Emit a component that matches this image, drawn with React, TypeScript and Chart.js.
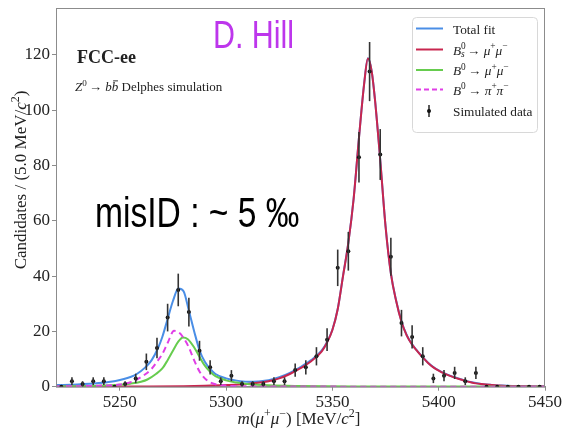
import React, { useEffect, useRef } from "react";
import { Chart, registerables } from "chart.js";

Chart.register(...registerables);

// ---- data ----
const binCenters = [
  5222.5, 5227.5, 5232.5, 5237.5, 5242.5, 5247.5, 5252.5, 5257.5, 5262.5, 5267.5,
  5272.5, 5277.5, 5282.5, 5287.5, 5292.5, 5297.5, 5302.5, 5307.5, 5312.5, 5317.5,
  5322.5, 5327.5, 5332.5, 5337.5, 5342.5, 5347.5, 5352.5, 5357.5, 5362.5, 5367.5,
  5372.5, 5377.5, 5382.5, 5387.5, 5392.5, 5397.5, 5402.5, 5407.5, 5412.5, 5417.5,
  5422.5, 5427.5, 5432.5, 5437.5, 5442.5, 5447.5,
];
const counts = [
  0, 2, 1, 2, 2, 0, 1, 3, 9, 14,
  25, 35, 27, 13, 7, 2, 4, 1, 1, 1,
  2, 2, 6, 7, 11, 17, 43, 49, 83, 114,
  84, 47, 23, 18, 11, 3, 4, 5, 2, 5,
  0, 0, 0, 0, 0, 0,
];
const countErrors = [
  0, 1.4, 1, 1.4, 1.4, 0, 1, 1.7, 3, 3.7,
  5, 5.9, 5.2, 3.6, 2.6, 1.4, 2, 1, 1, 1,
  1.4, 1.4, 2.4, 2.6, 3.3, 4.1, 6.6, 7, 9.1, 10.7,
  9.2, 6.9, 4.8, 4.2, 3.3, 1.7, 2, 2.2, 1.4, 2.2,
  0, 0, 0, 0, 0, 0,
];

const bsFitX = [
  5220, 5260, 5280, 5290, 5300, 5310, 5315, 5320, 5325, 5330, 5335, 5340, 5345, 5347.5,
  5350, 5352.5, 5355, 5357.5, 5360, 5362.5, 5365, 5366.7, 5368.5, 5370, 5372.5, 5375,
  5377.5, 5380, 5382.5, 5385, 5387.5, 5390, 5392.5, 5395, 5397.5, 5400, 5402.5, 5405,
  5407.5, 5410, 5412.5, 5415, 5417.5, 5420, 5425, 5430, 5440, 5450,
];
const bsFitY = [
  0.02, 0.1, 0.2, 0.35, 0.6, 1.0, 1.4, 2.0, 3.0, 4.6, 6.7, 9.2, 12.8, 16.0,
  20.5, 28, 40, 52, 68, 90, 110, 118.7, 114, 104, 82, 58,
  41, 31, 23.5, 18.5, 15.2, 12.8, 10.6, 8.6, 7.0, 5.8, 4.8, 4.0,
  3.3, 2.7, 2.1, 1.6, 1.2, 0.95, 0.6, 0.35, 0.12, 0.05,
];

const totalFitX = [
  5220, 5230, 5240, 5248, 5255, 5258, 5262, 5265, 5268, 5270, 5272.5, 5275, 5277.6,
  5280, 5282.5, 5285, 5287.5, 5290, 5292.5, 5295, 5300, 5305, 5310, 5315, 5320, 5325,
  5330, 5335, 5340, 5345, 5347.5, 5350, 5352.5, 5355, 5357.5, 5360, 5362.5, 5365,
  5366.7, 5368.5, 5370, 5372.5, 5375, 5377.5, 5380, 5382.5, 5385, 5387.5, 5390, 5392.5,
  5395, 5397.5, 5400, 5402.5, 5405, 5407.5, 5410, 5412.5, 5415, 5417.5, 5420, 5425,
  5430, 5440, 5450,
];
const totalFitY = [
  0.6, 0.8, 1.3, 2.1, 3.5, 4.6, 7.0, 9.6, 14, 18, 24.5, 31, 35.5,
  34.5, 27.5, 20, 13.2, 9, 6.4, 4.6, 3.0, 2.2, 1.8, 1.9, 2.3, 3.4,
  5.0, 7.1, 9.6, 13.1, 16.2, 20.6, 28.1, 40.1, 52.1, 68.1, 90.1, 110.1,
  118.8, 114.1, 104.1, 82.1, 58.1, 41.1, 31.1, 23.6, 18.6, 15.3, 12.9, 10.7,
  8.7, 7.1, 5.9, 4.9, 4.1, 3.4, 2.8, 2.2, 1.7, 1.3, 1.0, 0.65,
  0.4, 0.15, 0.07,
];

const b0FitX = [
  5220, 5240, 5250, 5255, 5260, 5263, 5267, 5270, 5272.5, 5275, 5277.5, 5279.7, 5282,
  5285, 5287.5, 5290, 5292.5, 5295, 5300, 5305, 5310, 5320, 5335, 5360, 5450,
];
const b0FitY = [
  0.1, 0.35, 0.7, 1.1, 1.8, 2.6, 4.6, 6.6, 9.6, 13.0, 16.3, 17.8, 17.2,
  14.2, 10.8, 7.6, 5.4, 3.8, 2.3, 1.5, 1.0, 0.5, 0.25, 0.1, 0.02,
];

const pipiFitX = [
  5220, 5240, 5250, 5255, 5258, 5262, 5265, 5267.5, 5270, 5272.5, 5275.5, 5278, 5280,
  5282.5, 5285, 5287.5, 5290, 5292.5, 5295, 5300, 5310, 5330, 5450,
];
const pipiFitY = [
  0.1, 0.35, 0.8, 1.6, 2.6, 4.5, 6.5, 9.0, 11.8, 15.8, 20.2, 19.5, 17.6,
  14.2, 9.5, 5.5, 3.0, 1.6, 0.9, 0.4, 0.15, 0.05, 0,
];

const xTickStep = 50;
const yTickStep = 20;
const xRange = [5220, 5450];
const yRange = [0, 137];

// ---- styles ----
const C_TOTAL = "#4a8ee6";
const C_BS = "#c8264f";
const C_B0 = "#66cc4e";
const C_PIPI = "#e03ee6";
const C_FRAME = "#8c8c8c";
const C_TEXT = "#222222";
const SERIF = "'Liberation Serif', 'DejaVu Serif', serif";
const SANS = "'Liberation Sans', Arial, sans-serif";

type Seg = { t: string; f?: "i" | "b" | "n"; p?: "sup" | "sub"; k?: boolean; bar?: boolean };

function drawRich(
  ctx: CanvasRenderingContext2D,
  segs: Seg[],
  x: number,
  y: number,
  size: number,
  draw = true
): number {
  let cx = x;
  for (const s of segs) {
    const sz = s.p ? size * 0.7 : size;
    const style = s.f === "i" ? "italic " : s.f === "b" ? "bold " : "";
    ctx.font = `${style}${sz}px ${SERIF}`;
    const dy = s.p === "sup" ? -size * 0.4 : s.p === "sub" ? size * 0.22 : 0;
    const w = ctx.measureText(s.t).width;
    if (draw) {
      ctx.fillText(s.t, cx, y + dy);
      if (s.bar) {
        ctx.save();
        ctx.lineWidth = 0.9;
        ctx.strokeStyle = ctx.fillStyle as string;
        ctx.beginPath();
        ctx.moveTo(cx + w * 0.2, y - size * 0.78);
        ctx.lineTo(cx + w * 0.95, y - size * 0.78);
        ctx.stroke();
        ctx.restore();
      }
    }
    if (!s.k) cx += w;
  }
  return cx - x;
}

const muPair: Seg[] = [
  { t: "μ", f: "i" },
  { t: "+", p: "sup" },
  { t: "μ", f: "i" },
  { t: "−", p: "sup" },
];

const legendRows: { kind: "line" | "dash" | "data"; color: string; segs: Seg[] }[] = [
  { kind: "line", color: C_TOTAL, segs: [{ t: "Total fit" }] },
  {
    kind: "line",
    color: C_BS,
    segs: [{ t: "B", f: "i" }, { t: "0", p: "sup", k: true }, { t: "s ", f: "i", p: "sub" }, { t: "→ " }, ...muPair],
  },
  {
    kind: "line",
    color: C_B0,
    segs: [{ t: "B", f: "i" }, { t: "0 ", p: "sup" }, { t: "→ " }, ...muPair],
  },
  {
    kind: "dash",
    color: C_PIPI,
    segs: [
      { t: "B", f: "i" },
      { t: "0 ", p: "sup" },
      { t: "→ " },
      { t: "π", f: "i" },
      { t: "+", p: "sup" },
      { t: "π", f: "i" },
      { t: "−", p: "sup" },
    ],
  },
  { kind: "data", color: "#222", segs: [{ t: "Simulated data" }] },
];

function squeezedText(
  ctx: CanvasRenderingContext2D,
  text: string,
  x: number,
  y: number,
  font: string,
  color: string,
  sx: number
) {
  ctx.save();
  ctx.translate(x, y);
  ctx.scale(sx, 1);
  ctx.font = font;
  ctx.fillStyle = color;
  ctx.textBaseline = "alphabetic";
  ctx.textAlign = "left";
  ctx.fillText(text, 0, 0);
  ctx.restore();
}

const overlayPlugin = {
  id: "overlay",
  afterDatasetsDraw(chart: any) {
    const ctx: CanvasRenderingContext2D = chart.ctx;
    const xs = chart.scales.x;
    const ys = chart.scales.y;
    ctx.save();
    ctx.strokeStyle = "#333";
    ctx.lineWidth = 1.6;
    for (let i = 0; i < binCenters.length; i++) {
      const e = countErrors[i];
      if (!e) continue;
      const px = xs.getPixelForValue(binCenters[i]);
      ctx.beginPath();
      ctx.moveTo(px, ys.getPixelForValue(counts[i] - e));
      ctx.lineTo(px, ys.getPixelForValue(counts[i] + e));
      ctx.stroke();
    }
    ctx.restore();
  },
  afterDraw(chart: any) {
    const ctx: CanvasRenderingContext2D = chart.ctx;
    const a = chart.chartArea;
    ctx.save();
    // frame
    ctx.strokeStyle = C_FRAME;
    ctx.lineWidth = 1;
    ctx.strokeRect(a.left + 0.5, a.top + 0.5, a.right - a.left - 1, a.bottom - a.top);

    ctx.fillStyle = C_TEXT;
    ctx.textBaseline = "alphabetic";
    ctx.textAlign = "left";

    // FCC-ee label
    drawRich(ctx, [{ t: "FCC-ee", f: "b" }], 77, 63, 18);
    drawRich(
      ctx,
      [
        { t: "Z", f: "i" },
        { t: "0 ", p: "sup" },
        { t: "→ " },
        { t: "b", f: "i" },
        { t: "b", f: "i", bar: true },
        { t: " Delphes simulation" },
      ],
      75,
      91,
      13
    );

    // D. Hill
    squeezedText(ctx, "D. Hill", 213, 48, `39px ${SANS}`, "#bd36ec", 0.78);
    // misID
    squeezedText(ctx, "misID : ~ 5 ‰", 95, 227, `42px ${SANS}`, "#000", 0.8);

    // legend
    const lx = 412, ly = 17, lw = 125, lh = 115;
    ctx.save();
    ctx.fillStyle = "rgba(255,255,255,0.9)";
    ctx.strokeStyle = "#d8d8d8";
    ctx.lineWidth = 1;
    ctx.beginPath();
    (ctx as any).roundRect(lx + 0.5, ly + 0.5, lw, lh, 4);
    ctx.fill();
    ctx.stroke();
    ctx.restore();
    const rowY = [28.5, 49.5, 70, 89.5, 111];
    legendRows.forEach((r, i) => {
      const y = rowY[i];
      ctx.save();
      if (r.kind === "data") {
        ctx.strokeStyle = "#333";
        ctx.lineWidth = 1.6;
        ctx.beginPath();
        ctx.moveTo(429, y - 6);
        ctx.lineTo(429, y + 6);
        ctx.stroke();
        ctx.fillStyle = "#111";
        ctx.beginPath();
        ctx.arc(429, y, 2, 0, Math.PI * 2);
        ctx.fill();
      } else {
        ctx.strokeStyle = r.color;
        ctx.lineWidth = 2;
        if (r.kind === "dash") ctx.setLineDash([5, 3]);
        ctx.beginPath();
        ctx.moveTo(416, y);
        ctx.lineTo(443, y);
        ctx.stroke();
      }
      ctx.restore();
      ctx.fillStyle = C_TEXT;
      drawRich(ctx, r.segs, 453, y + 5, 13.3);
    });

    // y axis title (rotated)
    const ySegs: Seg[] = [
      { t: "Candidates / (5.0 MeV/" },
      { t: "c", f: "i" },
      { t: "2", p: "sup" },
      { t: ")" },
    ];
    const wy = drawRich(ctx, ySegs, 0, 0, 17, false);
    ctx.save();
    ctx.translate(26, 180);
    ctx.rotate(-Math.PI / 2);
    ctx.fillStyle = C_TEXT;
    drawRich(ctx, ySegs, -wy / 2, 0, 17);
    ctx.restore();

    // x axis title
    const xSegs: Seg[] = [
      { t: "m", f: "i" },
      { t: "(" },
      ...muPair,
      { t: ") [MeV/" },
      { t: "c", f: "i" },
      { t: "2", p: "sup" },
      { t: "]" },
    ];
    const wx = drawRich(ctx, xSegs, 0, 0, 17, false);
    ctx.fillStyle = C_TEXT;
    drawRich(ctx, xSegs, 299 - wx / 2, 424, 17);

    ctx.restore();
  },
};

function toXY(xs: number[], ys: number[]) {
  return xs.map((x, i) => ({ x, y: ys[i] }));
}

export default function App() {
  const ref = useRef<HTMLCanvasElement | null>(null);

  useEffect(() => {
    document.body.style.margin = "0";
    const canvas = ref.current;
    if (!canvas) return;
    const curve = (data: any, color: string, order: number, dash?: number[]) => ({
      type: "line" as const,
      data,
      borderColor: color,
      backgroundColor: color,
      borderWidth: 2,
      borderDash: dash || [],
      pointRadius: 0,
      fill: false,
      cubicInterpolationMode: "monotone" as const,
      order,
    });
    const chart = new Chart(canvas, {
      type: "line",
      data: {
        datasets: [
          {
            type: "scatter",
            label: "Simulated data",
            data: toXY(binCenters, counts),
            pointRadius: 2,
            pointBackgroundColor: "#111",
            pointBorderWidth: 0,
            showLine: false,
            order: 0,
          } as any,
          { label: "pipi", ...curve(toXY(pipiFitX, pipiFitY), C_PIPI, 1, [6, 4]) },
          { label: "b0", ...curve(toXY(b0FitX, b0FitY), C_B0, 2) },
          { label: "bs", ...curve(toXY(bsFitX, bsFitY), C_BS, 3) },
          { label: "total", ...curve(toXY(totalFitX, totalFitY), C_TOTAL, 4) },
        ],
      },
      options: {
        animation: false,
        responsive: false,
        maintainAspectRatio: false,
        layout: { padding: { top: 8, right: 17, left: 0, bottom: 0 } },
        plugins: { legend: { display: false }, tooltip: { enabled: false } },
        scales: {
          x: {
            type: "linear",
            min: xRange[0],
            max: xRange[1],
            ticks: {
              stepSize: xTickStep,
              includeBounds: false,
              color: C_TEXT,
              font: { family: SERIF, size: 17 },
              padding: 2,
              maxRotation: 0,
              callback: (v: any) => String(v),
            },
            grid: { drawOnChartArea: false, tickLength: 4, color: C_FRAME },
            border: { color: C_FRAME },
            afterFit: (s: any) => {
              s.height = 45.3;
              s.paddingLeft = 0;
              s.paddingRight = 0;
            },
          },
          y: {
            type: "linear",
            min: yRange[0],
            max: yRange[1],
            ticks: {
              stepSize: yTickStep,
              includeBounds: false,
              color: C_TEXT,
              font: { family: SERIF, size: 17 },
              padding: 2,
            },
            grid: { drawOnChartArea: false, tickLength: 4, color: C_FRAME },
            border: { color: C_FRAME },
            afterFit: (s: any) => {
              s.width = 56;
              s.paddingTop = 0;
              s.paddingBottom = 0;
            },
          },
        },
      } as any,
      plugins: [overlayPlugin],
    });
    return () => chart.destroy();
  }, []);

  return (
    <div style={{ position: "absolute", left: 0, top: 0, width: 562, height: 432, background: "#fff" }}>
      <canvas ref={ref} width={562} height={432} style={{ display: "block" }} />
    </div>
  );
}
